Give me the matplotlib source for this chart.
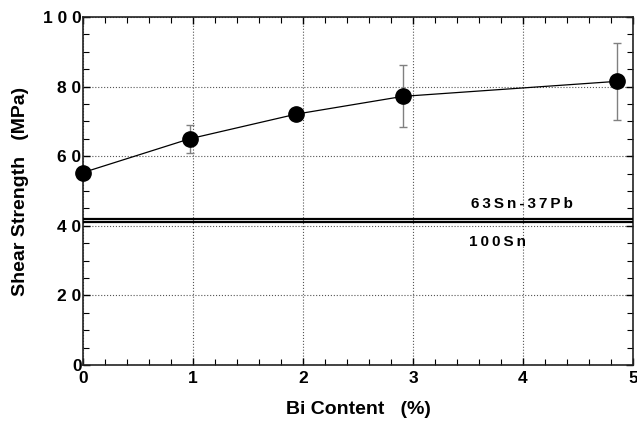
import matplotlib
matplotlib.use("Agg")
import matplotlib.pyplot as plt
from matplotlib.ticker import MultipleLocator

# Bi content vs shear strength
bi_content = [0, 0.97, 1.94, 2.91, 4.85]
shear = [55.3, 65.0, 72.1, 77.2, 81.5]
err_low = [0, 4.0, 0, 8.9, 11.0]
err_high = [0, 4.0, 0, 9.0, 11.0]

# reference alloys
ref_names = ["63Sn-37Pb", "100Sn"]
ref_values = [42.0, 41.0]

y_ticks = [0, 20, 40, 60, 80, 100]
y_tick_labels = ["0", "2 0", "4 0", "6 0", "8 0", "1 0 0"]
x_ticks = [0, 1, 2, 3, 4, 5]

plt.rcParams['font.family'] = ['Liberation Sans', 'DejaVu Sans']
plt.rcParams['font.weight'] = 'bold'


def spaced(s):
    # the original labels are printed with loose letter spacing
    return "\u2009".join(s)


fig = plt.figure(figsize=(6.37, 4.24), dpi=100)
ax = fig.add_axes([83 / 637, 1 - 365 / 424, 550 / 637, 348 / 424])

# reference lines for the plain solders
for v in ref_values:
    ax.axhline(v, color='black', linewidth=1.6, zorder=3)
ax.text(3.53, ref_values[0] + 4.3, spaced(ref_names[0]), fontsize=11,
        fontweight='bold', ha='left', va='center')
ax.text(3.51, ref_values[1] - 5.6, spaced(ref_names[1]), fontsize=11,
        fontweight='bold', ha='left', va='center')

ax.errorbar(bi_content, shear, yerr=[err_low, err_high], fmt='none',
            ecolor='#808080', elinewidth=1.0, capsize=3, capthick=1.0, zorder=4)
ax.plot(bi_content, shear, color='black', linewidth=0.9, marker='o',
        markersize=11, markerfacecolor='black', markeredgecolor='black',
        zorder=5, clip_on=False)

ax.set_xlim(0, 5)
ax.set_ylim(0, 100)
ax.set_xticks(x_ticks)
ax.set_xticklabels([str(t) for t in x_ticks])
ax.set_yticks(y_ticks)
ax.set_yticklabels(y_tick_labels)
ax.xaxis.set_minor_locator(MultipleLocator(0.2))
ax.yaxis.set_minor_locator(MultipleLocator(5))

ax.tick_params(which='both', direction='in', top=True, right=True, labelsize=12.5)
ax.tick_params(which='major', length=5, width=1)
ax.tick_params(which='minor', length=4, width=0.8)
ax.tick_params(axis='y', pad=1)
ax.tick_params(axis='x', pad=4)

ax.grid(True, which='major', linestyle=':', color='#555555', linewidth=0.8)

for s in ax.spines.values():
    s.set_linewidth(1.2)
    s.set_color('#222222')

ax.set_xlabel('Bi Content   (%)', fontsize=14, fontweight='bold', labelpad=11)
ax.set_ylabel('Shear Strength   (MPa)', fontsize=14, fontweight='bold', labelpad=10)

fig.savefig('out.png', dpi=100)
